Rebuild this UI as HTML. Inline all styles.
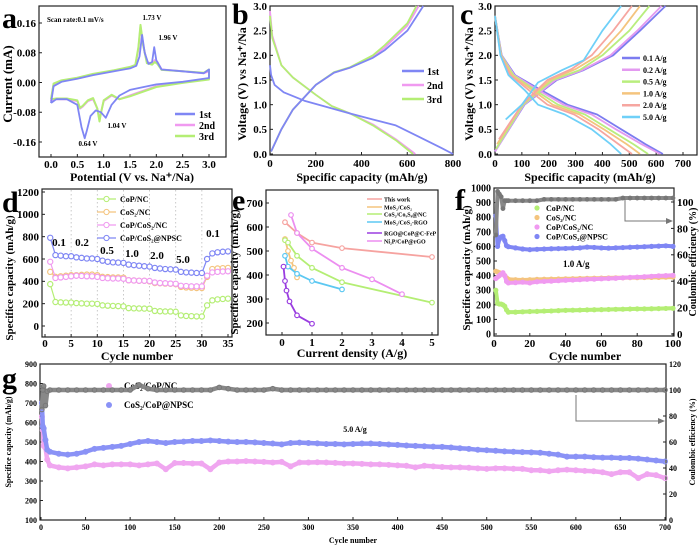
<!DOCTYPE html>
<html><head><meta charset="utf-8"><style>
html,body{margin:0;padding:0;background:#fff;}
svg{display:block;font-family:"Liberation Serif",serif;font-weight:bold;}
</style></head><body>
<svg id="fig" width="700" height="547" viewBox="0 0 700 547" xmlns="http://www.w3.org/2000/svg"></svg>
<script>
// ---------- DATA ----------
const a1V=[0,0.05,0.2,0.5,0.8,1.2,1.5,1.62,1.68,1.73,1.78,1.85,1.92,1.96,2.0,2.1,2.5,2.9,3.0,3.0,2.5,2.0,1.5,1.3,1.15,1.04,0.95,0.85,0.75,0.68,0.64,0.58,0.5,0.3,0.1,0];
const a1I=[-0.055,-0.01,0.002,0.01,0.02,0.03,0.038,0.045,0.07,0.128,0.08,0.05,0.055,0.095,0.06,0.035,0.03,0.025,0.035,0.012,0.002,-0.005,-0.02,-0.035,-0.06,-0.095,-0.08,-0.075,-0.09,-0.13,-0.15,-0.12,-0.06,-0.045,-0.045,-0.055];
const a2V=[0,0.05,0.2,0.5,0.8,1.2,1.5,1.6,1.66,1.70,1.75,1.82,1.92,1.97,2.02,2.1,2.5,2.9,3.0,3.0,2.5,2.0,1.5,1.3,1.15,1.0,0.95,0.92,0.88,0.8,0.7,0.6,0.55,0.5,0.3,0.1,0];
const a2I=[-0.05,-0.005,0.005,0.012,0.022,0.032,0.04,0.045,0.09,0.15,0.1,0.055,0.05,0.06,0.055,0.035,0.03,0.025,0.03,0.01,0.0,-0.01,-0.035,-0.045,-0.035,-0.05,-0.08,-0.1,-0.07,-0.045,-0.05,-0.065,-0.07,-0.05,-0.045,-0.045,-0.05];
const a3I=[-0.045,-0.003,0.006,0.013,0.023,0.033,0.042,0.047,0.095,0.155,0.1,0.052,0.048,0.055,0.05,0.034,0.03,0.026,0.035,0.008,-0.001,-0.012,-0.037,-0.045,-0.033,-0.048,-0.082,-0.105,-0.07,-0.042,-0.048,-0.063,-0.068,-0.048,-0.043,-0.043,-0.045];
const b1dC=[0,5,20,60,150,250,350,450,550,650,750,800];
const b1dV=[1.8,1.6,1.4,1.25,1.08,0.95,0.82,0.7,0.58,0.35,0.12,0];
const b1cC=[5,50,100,200,280,350,450,500,600,670];
const b1cV=[0.05,0.5,0.9,1.4,1.65,1.75,1.95,2.1,2.5,3.0];
const b2dC=[0,10,50,100,200,270,350,450,550,635];
const b2dV=[2.9,2.4,1.8,1.55,1.2,0.97,0.82,0.6,0.3,0];
const b2cC=[5,50,100,200,280,350,450,500,600,650];
const b2cV=[0.05,0.5,0.9,1.4,1.65,1.75,1.97,2.15,2.6,3.0];
const b3dC=[0,10,50,100,200,270,350,450,550,625];
const b3dV=[2.8,2.35,1.8,1.55,1.2,0.97,0.82,0.58,0.28,0];
const b3cC=[5,50,100,200,280,350,450,500,600,640];
const b3cV=[0.05,0.5,0.9,1.4,1.66,1.76,2.0,2.2,2.65,3.0];
const cRates=["0.1 A/g","0.2 A/g","0.5 A/g","1.0 A/g","2.0 A/g","5.0 A/g"];
const cDisV=[2.8,2.0,1.6,1.3,1.0,0.8,0.5,0.2,0];
const cDisCap=[[0,25,75,170,270,380,470,560,625],[0,24,72,160,255,360,450,545,615],[0,23,68,148,235,335,425,515,570],[0,22,62,138,215,315,405,490,540],[0,21,57,125,195,295,385,460,510],[0,20,50,110,160,260,360,430,470]];
const cChV=[[0.05,1.0,1.5,1.7,2.0,2.5,3.0],[0.05,1.0,1.5,1.7,2.0,2.5,3.0],[0.1,1.0,1.5,1.7,2.0,2.5,3.0],[0.2,1.0,1.5,1.72,2.0,2.5,3.0],[0.3,1.0,1.5,1.72,2.0,2.5,3.0],[0.7,1.0,1.45,1.7,1.9,2.5,3.0]];
const cChCap=[[0,110,230,330,440,540,635],[0,108,225,325,430,530,620],[3,105,215,315,400,500,575],[8,100,205,300,385,470,540],[15,100,195,285,360,440,510],[40,100,160,250,330,400,470]];
const dCycles=[1,2,3,4,5,6,7,8,9,10,11,12,13,14,15,16,17,18,19,20,21,22,23,24,25,26,27,28,29,30,31,32,33,34,35];
const dNPSC=[790,635,630,625,625,615,610,605,605,600,585,575,570,568,565,550,545,540,535,532,520,515,510,508,505,485,480,478,475,475,600,650,660,665,668];
const dCoPCoS2NC=[575,430,435,440,445,450,448,445,445,440,430,428,425,425,423,410,408,405,405,403,390,385,383,380,378,360,358,355,355,355,450,480,485,488,490];
const dCoS2NC=[485,440,445,450,455,455,458,460,460,455,440,438,435,435,433,410,408,405,405,400,385,383,380,378,375,350,345,343,340,340,440,510,515,518,520];
const dCoPNC=[375,215,212,210,210,205,203,200,200,198,185,182,180,178,176,160,158,157,156,155,135,132,130,130,128,95,90,88,86,85,185,230,238,242,245];
const dRateLabels=["0.1","0.2","0.5","1.0","2.0","5.0","0.1"];
const eNames=["This work","MoS₂/CoS₂","CoS₂/Co₉S₈@NC","MoS₂/CoS₂-RGO","RGO@CoP@C-FeP","Ni₂P/CoP@rGO"];
const eX=[[0.1,0.5,1,2,5],[0.1,0.2,0.3,0.4,0.5],[0.1,0.2,0.5,1,2,5],[0.1,0.2,0.5,1,2],[0.05,0.1,0.15,0.25,0.5,1],[0.3,0.5,1,2,3,4]];
const eY=[[620,575,535,512,475],[550,500,460,430,390],[545,535,480,430,370,285],[480,435,405,375,340],[435,375,335,290,232,197],[650,575,510,430,382,320]];
const fCycles=[1,2,3,4,5,6,7,8,12,16,20,24,28,32,36,40,44,48,52,56,60,64,68,72,76,80,84,88,92,96,100];
const fNPSC=[810,600,650,665,670,640,605,598,590,582,578,580,582,584,585,586,588,590,595,593,590,588,590,592,594,596,598,600,602,604,600];
const fCoPCoS2NC=[380,390,400,410,420,400,360,350,352,355,350,358,360,362,365,368,370,372,375,376,378,380,382,385,388,390,392,395,398,400,402];
const fCoS2NC=[430,425,420,415,410,400,385,375,372,370,372,374,375,376,377,378,379,380,381,382,383,384,385,385,386,386,387,388,388,389,390];
const fCoPNC=[300,210,205,205,200,190,165,150,150,152,154,155,157,158,160,162,163,164,165,166,167,168,169,170,171,172,172,173,174,175,176];
const fCE=[75,108,106,104,95,101,101,101,101,101,101,101,102,102,102,102,102,102,102,102,102,102,102,103,103,103,103,103,103,103,103];
const gCycles=[1,2,3,5,7,10,20,30,40,50,60,70,80,90,100,110,120,130,140,150,160,170,180,190,200,210,220,230,240,250,260,270,280,290,300,310,320,330,340,350,360,370,380,390,400,410,420,430,440,450,460,470,480,490,500,510,520,530,540,550,560,570,580,590,600,610,620,630,640,650,660,670,680,690,700];
const gNPSC=[700,580,570,510,460,450,440,435,440,450,465,470,475,480,490,500,505,500,495,500,502,505,505,508,505,502,500,500,498,495,492,488,495,497,495,493,490,490,488,490,492,492,490,487,485,482,480,478,476,475,472,468,465,460,458,455,452,450,448,447,445,440,435,425,425,425,422,420,420,418,418,415,410,405,400];
const gCoS2CoPNC=[630,560,480,470,410,380,370,365,370,375,385,380,385,385,385,380,385,390,360,392,392,390,390,360,395,400,400,402,400,398,395,398,375,395,395,396,395,393,390,390,388,385,385,383,380,378,370,378,375,372,370,370,368,365,362,365,365,363,362,355,355,350,355,358,355,352,350,345,335,345,345,315,335,330,315];
const gCE=[85,100,103,88,99,100,100,100,100,100,100,100,100,100,100,104,101,100,100,100,100,100,100,100,102,101,100,100,100,100,101,100,100,100,100,100,100,100,100,100,100,100,100,100,100,100,100,100,100,100,100,100,100,100,100,100,100,100,100,100,100,100,100,100,100,100,100,100,100,100,100,100,100,100,100];
const aXTicks=[0,0.5,1,1.5,2,2.5,3];
const aYTicks=[-0.16,-0.08,0,0.08,0.16];
const bXTicks=[0,200,400,600,800];
const vTicks=[0,0.5,1,1.5,2,2.5,3];
const cXTicks=[0,100,200,300,400,500,600,700];
const dXTicks=[0,5,10,15,20,25,30,35];
const dYTicks=[0,200,400,600,800,1000,1200];
const eXTicks=[0,1,2,3,4,5];
const eYTicks=[200,300,400,500,600,700];
const fXTicks=[0,20,40,60,80,100];
const fYTicks=[0,100,200,300,400,500,600,700,800,900,1000];
const fRTicks=[0,20,40,60,80,100];
const gXTicks=[0,50,100,150,200,250,300,350,400,450,500,550,600,650,700];
const gYTicks=[100,200,300,400,500,600,700,800,900];
const gRTicks=[0,20,40,60,80,100,120];

// ---------- HELPERS ----------
const NS='http://www.w3.org/2000/svg';
const svg=document.getElementById('fig');
function mk(tag,attrs,parent){const e=document.createElementNS(NS,tag);for(const k in attrs)e.setAttribute(k,attrs[k]);(parent||svg).appendChild(e);return e;}
function lin(d0,d1,r0,r1){return v=>r0+(v-d0)*(r1-r0)/(d1-d0);}
function txt(x,y,s,size,anchor,parent,rot){const t=mk('text',{x:x,y:y,'font-size':size,'text-anchor':anchor||'middle',fill:'#000'},parent);if(rot)t.setAttribute('transform','rotate(-90 '+x+' '+y+')');t.textContent=s;return t;}
function fmt(v,d){return v.toFixed(d);}
function poly(xs,ys,sx,sy,color,w,parent){const p=xs.map((x,i)=>sx(x).toFixed(1)+','+sy(ys[i]).toFixed(1)).join(' ');return mk('polyline',{points:p,fill:'none',stroke:color,'stroke-width':w,'stroke-linejoin':'round'},parent);}
function frame(x,y,w,h,parent){const r=mk('rect',{x:x,y:y,width:w,height:h,fill:'none',stroke:'#222','stroke-width':1.2},parent);return r;}
function xTicks(vals,sx,yb,dec,size,parent,labY){vals.forEach(v=>{mk('line',{x1:sx(v),x2:sx(v),y1:yb,y2:yb-3,stroke:'#222'},parent);const t=txt(sx(v),labY,fmt(v,dec),size,'middle',parent);});}
function yTicks(vals,sy,xl,dec,size,parent,dir){vals.forEach(v=>{mk('line',{x1:xl,x2:xl+3*dir,y1:sy(v),y2:sy(v),stroke:'#222'},parent);const t=txt(dir>0?xl-3:xl+3,sy(v)+size*0.35,fmt(v,dec),size,dir>0?'end':'start',parent);});}
function group(name){const g=mk('g',{});return g;}
function panelLetter(ch,x,y,parent){const t=txt(x,y,ch,30,'start',parent);}

// ---------- PANEL A ----------
(function(){
const g=group('panel-a-cv');
const sx=lin(0,3,51,209), sy=lin(-0.16,0.16,142,23);
frame(39,6,187,151,g);
xTicks(aXTicks,sx,157,1,11,g,168);
yTicks(aYTicks,sy,39,2,11,g,1);
panelLetter('a',2,28,g);
let t=txt(132,181,'Potential (V vs. Na⁺/Na)',12,'middle',g);
t=txt(12,84,'Current (mA)',13,'middle',g,true);
t=txt(47,22,'Scan rate:0.1 mV/s',7,'start',g);
const colors=['#7f86f4','#f09af0','#b4ee74'];
let s=poly(a2V,a2I,sx,sy,colors[1],2,g);
s=poly(a2V,a3I,sx,sy,colors[2],2,g);
s=poly(a1V,a1I,sx,sy,colors[0],1.8,g);
[['1.73 V',152,20],['1.96 V',168,40],['1.04 V',117,128],['0.64 V',88,146]].forEach(p=>{const q=txt(p[1],p[2],p[0],7,'middle',g);});
['1st','2nd','3rd'].forEach((n,i)=>{const y=114+i*11;const l=mk('line',{x1:175,x2:195,y1:y,y2:y,stroke:colors[i],'stroke-width':2.5},g);const q=txt(199,y+4,n,10,'start',g);});
})();

// ---------- PANEL B ----------
(function(){
const g=group('panel-b-gcd');
const sx=lin(0,800,270,453), sy=lin(0,3,154,6);
frame(270,6,183,149,g);
xTicks(bXTicks,sx,155,0,11,g,167);
yTicks(vTicks,sy,270,1,11,g,1);
panelLetter('b',232,24,g);
let t=txt(362,181,'Specific capacity (mAh/g)',12,'middle',g);
t=txt(246,84,'Voltage (V) vs Na⁺/Na',12,'middle',g,true);
const colors=['#7f86f4','#f09af0','#b4ee74'];
let s=poly(b2dC,b2dV,sx,sy,colors[1],1.8,g);
s=poly(b2cC,b2cV,sx,sy,colors[1],1.8,g);
s=poly(b3dC,b3dV,sx,sy,colors[2],1.8,g);
s=poly(b3cC,b3cV,sx,sy,colors[2],1.8,g);
s=poly(b1dC,b1dV,sx,sy,colors[0],1.8,g);
s=poly(b1cC,b1cV,sx,sy,colors[0],1.8,g);
['1st','2nd','3rd'].forEach((n,i)=>{const y=71+i*14;const l=mk('line',{x1:402,x2:424,y1:y,y2:y,stroke:colors[i],'stroke-width':2.5},g);const q=txt(427,y+4,n,10,'start',g);});
})();

// ---------- PANEL C ----------
(function(){
const g=group('panel-c-rate-curves');
const sx=lin(0,700,495,683), sy=lin(0,3,154,6);
frame(495,6,202,149,g);
xTicks(cXTicks,sx,155,0,11,g,167);
yTicks(vTicks,sy,495,1,11,g,1);
panelLetter('c',460,24,g);
let t=txt(590,181,'Specific capacity (mAh/g)',12,'middle',g);
t=txt(473,84,'Voltage (V) vs Na⁺/Na',12,'middle',g,true);
const colors=['#7c7cf0','#e39af0','#b9ee7e','#f4c47e','#f6a6a0','#6fd0f8'];
cRates.forEach((r,i)=>{let s=poly(cDisCap[i],cDisV,sx,sy,colors[i],1.8,g);
s=poly(cChCap[i],cChV[i],sx,sy,colors[i],1.8,g);
const y=58+i*11.8;const l=mk('line',{x1:622,x2:640,y1:y,y2:y,stroke:colors[i],'stroke-width':2.5},g);const q=txt(643,y+3,r,8,'start',g);});
})();

// ---------- PANEL D ----------
(function(){
const g=group('panel-d-rate-cycling');
const sx=lin(0,35,45,228), sy=lin(0,1200,326,192);
[5,10,15,20,25,30].forEach(v=>{const l=mk('line',{x1:sx(v),x2:sx(v),y1:190,y2:336,stroke:'#bbb','stroke-dasharray':'1.5,2.5','stroke-width':0.8},g);});
frame(42,189,190,148,g);
xTicks(dXTicks,sx,337,0,11,g,347);
yTicks(dYTicks,sy,42,0,11,g,1);
panelLetter('d',2,212,g);
let t=txt(137,360,'Cycle number',12,'middle',g);
t=txt(13,278,'Specifice capacity (mAh/g)',11,'middle',g,true);
const series=[[dCoPNC,'#b4ee74','CoP/NC'],[dCoS2NC,'#f4c47e','CoS₂/NC'],[dCoPCoS2NC,'#f09af0','CoP/CoS₂/NC'],[dNPSC,'#7f86f4','CoP/CoS₂@NPSC']];
series.forEach((s,i)=>{const p=poly(dCycles,s[0],sx,sy,s[1],1.2,g);
s[0].forEach((v,j)=>{const c=mk('circle',{cx:sx(dCycles[j]),cy:sy(v),r:2.6,fill:'#fff',stroke:s[1],'stroke-width':1.2},g);});
const y=199+i*13;const l=mk('line',{x1:97,x2:116,y1:y,y2:y,stroke:s[1],'stroke-width':1.2},g);mk('circle',{cx:106.5,cy:y,r:2.6,fill:'#fff',stroke:s[1]},g);
const q=txt(120,y+3,s[2],8,'start',g);});
const rx=[59,82,107,132,157,183,213], ry=[246,246,254,257,259,263,237];
dRateLabels.forEach((r,i)=>{const q=txt(rx[i],ry[i],r,11,'middle',g);});
})();

// ---------- PANEL E ----------
(function(){
const g=group('panel-e-comparison');
const sx=lin(0,5,282,432), sy=lin(200,700,323,203);
frame(266,190,172,145,g);
xTicks(eXTicks,sx,335,0,11,g,346);
yTicks(eYTicks,sy,266,0,11,g,1);
panelLetter('e',232,210,g);
let t=txt(352,357,'Current density (A/g)',12,'middle',g);
t=txt(238,272,'Specifice capacity (mAh/g)',11,'middle',g,true);
const colors=['#f6a3a0','#f4c47e','#b4ee74','#5cc8f2','#9a3de0','#ec8ef0'];
const ly=[199,207,214,222,233,241];
eNames.forEach((n,i)=>{const p=poly(eX[i],eY[i],sx,sy,colors[i],1.8,g);
eX[i].forEach((x,j)=>{const c=mk('circle',{cx:sx(x),cy:sy(eY[i][j]),r:2.3,fill:'#fff',stroke:colors[i],'stroke-width':1.2},g);});
const l=mk('line',{x1:367,x2:382,y1:ly[i],y2:ly[i],stroke:colors[i],'stroke-width':1.5},g);
const q=txt(384,ly[i]+2.5,n,6,'start',g);});
})();

// ---------- PANEL F ----------
(function(){
const g=group('panel-f-cycling');
const sx=lin(0,100,494,673), sy=lin(0,1000,334,188), sr=lin(0,100,334,202);
frame(494,188,180,148,g);
xTicks(fXTicks,sx,336,0,11,g,347);
yTicks(fYTicks,sy,494,0,10,g,1);
yTicks(fRTicks,sr,674,0,11,g,-1);
panelLetter('f',455,210,g);
let t=txt(585,360,'Cycle number',12,'middle',g);
t=txt(470,268,'Specifice capacity (mAh/g)',11,'middle',g,true);
t=txt(696,262,'Coulombic efficiency (%)',10,'middle',g,true);
const series=[[fCoPNC,'#b4ee74','CoP/NC'],[fCoS2NC,'#f4c47e','CoS₂/NC'],[fCoPCoS2NC,'#f09af0','CoP/CoS₂/NC'],[fNPSC,'#7f86f4','CoP/CoS₂@NPSC']];
series.forEach((s,i)=>{const p=poly(fCycles,s[0],sx,sy,s[1],4,g);
s[0].forEach((v,j)=>{const c=mk('circle',{cx:sx(fCycles[j]),cy:sy(v),r:2.6,fill:s[1],stroke:'none'},g);});
const y=208+i*9.5;const c=mk('circle',{cx:537,cy:y,r:2.6,fill:s[1]},g);
const q=txt(546,y+3,s[2],8,'start',g);});
const ce=poly(fCycles,fCE,sx,sr,'#888',4,g);
fCE.forEach((v,j)=>{const c=mk('circle',{cx:sx(fCycles[j]),cy:sr(v),r:2.4,fill:'#777'},g);});
const ar=mk('polyline',{points:'625,199 625,221 668,221',fill:'none',stroke:'#777','stroke-width':1},g);
mk('polygon',{points:'673,221 666,218 666,224',fill:'#777'},g);
t=txt(563,267,'1.0 A/g',9,'start',g);
})();

// ---------- PANEL G ----------
(function(){
const g=group('panel-g-long-cycling');
const sx=lin(0,700,41,665), sy=lin(100,900,520,364), sr=lin(0,120,520,364);
frame(40,364,626,156,g);
xTicks(gXTicks,sx,520,0,8,g,530);
yTicks(gYTicks,sy,40,0,8,g,1);
yTicks(gRTicks,sr,666,0,8,g,-1);
panelLetter('g',2,388,g);
let t=txt(353,543,'Cycle number',8,'middle',g);
t=txt(11,442,'Specifice capacity (mAh/g)',8,'middle',g,true);
t=txt(695,442,'Coulombic efficiency (%)',8,'middle',g,true);
const series=[[gCoS2CoPNC,'#f0a6f0','CoS₂/CoP/NC'],[gNPSC,'#8a92f6','CoS₂/CoP@NPSC']];
series.forEach((s,i)=>{const p=poly(gCycles,s[0],sx,sy,s[1],4.5,g);
s[0].forEach((v,j)=>{const c=mk('circle',{cx:sx(gCycles[j]),cy:sy(v),r:2.5,fill:'none',stroke:s[1],'stroke-width':1},g);});
const y=386+i*19;const c=mk('circle',{cx:109,cy:y,r:3,fill:s[1]},g);
const q=txt(124,y+3,s[2],9,'start',g);});
const ce=poly(gCycles,gCE,sx,sr,'#888',4.5,g);
gCE.forEach((v,j)=>{const c=mk('circle',{cx:sx(gCycles[j]),cy:sr(v),r:2.3,fill:'none',stroke:'#777','stroke-width':1},g);});
const ar=mk('polyline',{points:'576,395 576,421 660,421',fill:'none',stroke:'#777','stroke-width':1},g);
mk('polygon',{points:'665,421 658,418 658,424',fill:'#777'},g);
t=txt(355,432,'5.0 A/g',8,'middle',g);
})();
</script>
</body></html>
